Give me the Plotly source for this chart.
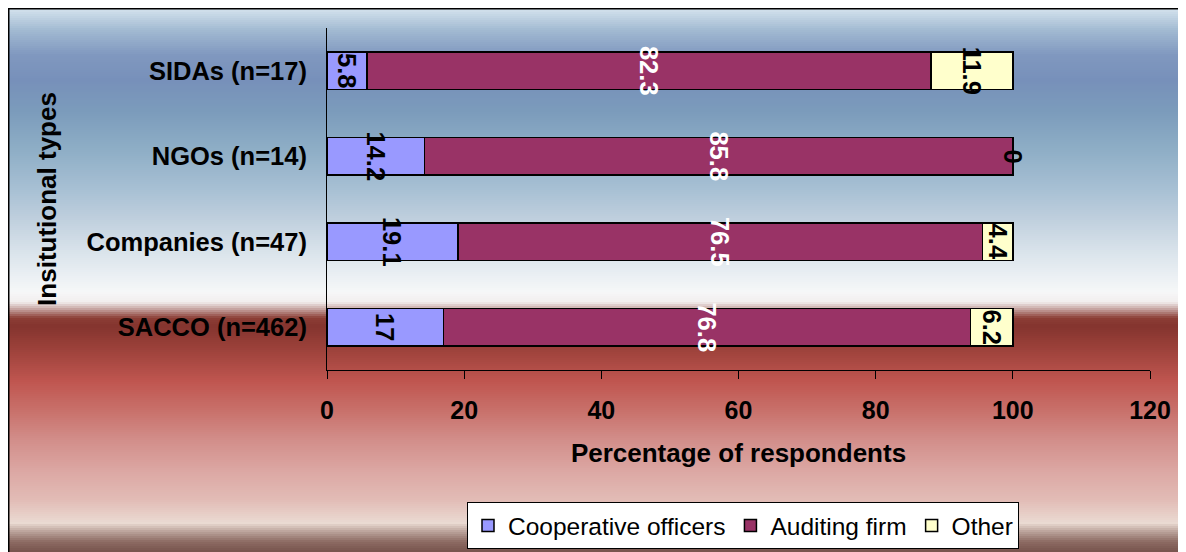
import plotly.graph_objects as go

CATEGORIES = ["SACCO (n=462)", "Companies (n=47)", "NGOs (n=14)", "SIDAs (n=17)"]
COOP_OFFICERS = [17, 19.1, 14.2, 5.8]
AUDITING_FIRM = [76.8, 76.5, 85.8, 82.3]
OTHER = [6.2, 4.4, 0, 11.9]
X_TICKS = [0, 20, 40, 60, 80, 100, 120]

SERIES_COLORS = {
    "Cooperative officers": "#9999FF",
    "Auditing firm": "#993366",
    "Other": "#FFFFCC",
}
LABEL_COLORS = {
    "Cooperative officers": "black",
    "Auditing firm": "white",
    "Other": "black",
}

FONT = "Liberation Sans, Arial"
W, H = 1186, 552
OFF = 8  # page body margin: figure pixel = screen pixel - OFF
PLOT_L, PLOT_R, PLOT_T, PLOT_B = 327 - OFF, 1150 - OFF, 28 - OFF, 370 - OFF

# background gradient stops (screen row -> colour)
BG_STOPS = [
    (8, "#d6e4ee"), (30, "#a2bad2"), (55, "#8098bf"), (80, "#7790ba"),
    (110, "#7b9bbb"), (150, "#8eaec6"), (190, "#a8c0d4"), (220, "#c0d0de"),
    (250, "#d8e2ea"), (272, "#e8eef2"), (292, "#f6f7f8"), (302, "#f2eeee"),
    (310, "#c09a96"), (318, "#8c3e36"), (326, "#84342e"), (345, "#983f38"),
    (382, "#c05650"), (410, "#c8706a"), (440, "#d28e8a"), (472, "#dca8a4"),
    (500, "#e2bcb6"), (523, "#eadad2"), (532, "#b8a098"), (542, "#8c6a62"),
    (556, "#6e4a44"),
]


def hex_rgb(c):
    return int(c[1:3], 16), int(c[3:5], 16), int(c[5:7], 16)


def color_at(y):
    for (y0, c0), (y1, c1) in zip(BG_STOPS, BG_STOPS[1:]):
        if y0 <= y <= y1:
            t = (y - y0) / (y1 - y0)
            a, b = hex_rgb(c0), hex_rgb(c1)
            r = [round(a[i] + (b[i] - a[i]) * t) for i in range(3)]
            return f"rgb({r[0]},{r[1]},{r[2]})"
    return BG_STOPS[-1][1] if y > BG_STOPS[-1][0] else BG_STOPS[0][1]


def px_x(x):
    # screen x -> paper
    return (x - OFF - PLOT_L) / (PLOT_R - PLOT_L)


def px_y(y):
    # screen y -> paper
    return (PLOT_B - (y - OFF)) / (PLOT_B - PLOT_T)


fig = go.Figure()

series = [("Cooperative officers", COOP_OFFICERS),
          ("Auditing firm", AUDITING_FIRM),
          ("Other", OTHER)]
for name, vals in series:
    fig.add_trace(
        go.Bar(
            y=CATEGORIES,
            x=vals,
            name=name,
            orientation="h",
            marker=dict(color=SERIES_COLORS[name], line=dict(color="black", width=1.5)),
            text=[f"{v:g}" if v > 0 else "" for v in vals],
            textposition="inside",
            textangle=90,
            insidetextanchor="middle",
            constraintext="none",
            cliponaxis=False,
            textfont=dict(family=FONT, size=25.5, weight="bold", color=LABEL_COLORS[name]),
            hovertemplate="%{y}<br>" + name + ": %{x}<extra></extra>",
        )
    )

# zero-width segments get their label at the segment position
annotations = []
base = [0] * len(CATEGORIES)
for name, vals in series:
    for i, v in enumerate(vals):
        if v == 0:
            annotations.append(dict(
                x=base[i], y=CATEGORIES[i], text=f"{v:g}", showarrow=False,
                textangle=90, font=dict(family=FONT, size=25.5, weight="bold",
                                        color=LABEL_COLORS[name]),
            ))
        base[i] += v

shapes = []
step = 2
for y in range(8, 560, step):
    shapes.append(dict(
        type="rect", xref="paper", yref="paper", layer="below",
        x0=px_x(8), x1=px_x(W + 12), y0=px_y(y), y1=px_y(y + step + 0.5),
        fillcolor=color_at(y + step / 2), line=dict(width=0),
    ))
shapes.append(dict(
    type="rect", xref="paper", yref="paper", layer="below",
    x0=px_x(8.5), x1=px_x(W + 12), y0=px_y(8.5), y1=px_y(H + 12),
    fillcolor="rgba(0,0,0,0)", line=dict(color="black", width=2),
))

fig.update_layout(
    width=W,
    height=H,
    barmode="stack",
    bargap=0.567,
    paper_bgcolor="white",
    plot_bgcolor="rgba(0,0,0,0)",
    font=dict(family=FONT, size=25, color="black"),
    margin=dict(l=PLOT_L, r=W - PLOT_R, t=PLOT_T, b=H - PLOT_B, autoexpand=False),
    shapes=shapes,
    annotations=annotations,
    showlegend=True,
    legend=dict(
        orientation="h",
        x=px_x(467), xanchor="left",
        y=px_y(502), yanchor="top",
        bgcolor="white",
        bordercolor="black",
        borderwidth=1,
        font=dict(size=24.5, weight="normal"),
        itemwidth=30,
        traceorder="normal",
        tracegroupgap=0,
    ),
)

fig.update_xaxes(
    range=[0, 120],
    tickvals=X_TICKS,
    ticks="outside",
    ticklen=8,
    tickcolor="black",
    showline=True,
    linecolor="black",
    linewidth=1,
    showgrid=False,
    zeroline=False,
    ticklabelstandoff=10,
    tickfont=dict(size=25, weight="bold"),
    title=dict(text="Percentage of respondents", font=dict(size=26, weight="bold"), standoff=20),
)
fig.update_yaxes(
    type="category",
    categoryorder="array",
    categoryarray=CATEGORIES,
    showline=True,
    linecolor="black",
    linewidth=1,
    showgrid=False,
    ticks="",
    ticklabelstandoff=14,
    tickfont=dict(size=25.5, weight="bold"),
    title=dict(text="Insitutional types", font=dict(size=26, weight="bold"), standoff=22),
)

fig.write_html("out.html")
